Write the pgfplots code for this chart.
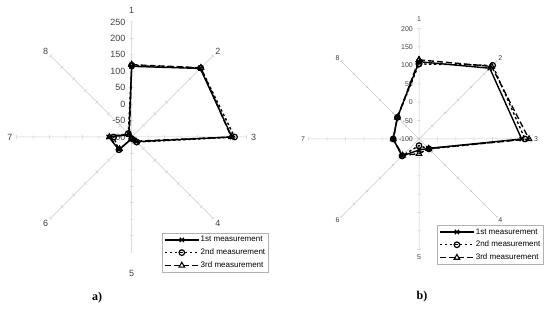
\documentclass[border=0pt]{standalone}
\usepackage{pgfplots}
\pgfplotsset{compat=1.18}
\usepackage{pgfplotstable}
\usepackage{fontspec}
\setmainfont{Liberation Sans}
\newfontfamily\seriffont{Liberation Serif}

\pgfplotstableread{
ang s1 s2 s3
90 115 118 120
45 195 197 198
0 205 213 203
-45 -80 -78 -82
-90 -95 -95 -95
-135 -45 -45 -48
180 -30 -45 -32
135 -88 -85 -90
90 115 118 120
}\dataA

\pgfplotstableread{
ang s1 s2 s3
90 110 104 115
45 172 183 179
0 179 188 199
-45 -64 -62 -63
-90 -70 -82 -60
-135 -35 -35 -37
180 -30 -30 -30
135 -17 -17 -17
90 110 104 115
}\dataB

\pgfplotsset{
  radar/.style={axis lines=none, clip=false, anchor=center,
    xmin=-400, xmax=400, ymin=-400, ymax=400, xtick=\empty, ytick=\empty,
    legend cell align=left,
    legend style={draw=gray!60, line width=0.4pt, font=\fontsize{8}{9}\selectfont,
      anchor=north west, inner xsep=2pt, inner ysep=2pt, row sep=3.2pt,
      nodes={inner sep=1.2pt}},
    legend image code/.code={\draw[mark repeat=2, mark phase=2] plot coordinates {(0pt,0pt)(17pt,0pt)(34pt,0pt)};}},
  s1/.style={black, line width=1.4pt, mark=x, mark size=3pt, mark options={solid, line width=1.2pt}},
  s2/.style={black, line width=1.4pt, dash pattern=on 2.5pt off 2.5pt, mark=o, mark size=2.8pt, mark options={solid, fill=white, line width=1.2pt}},
  s3/.style={black, line width=1.4pt, dash pattern=on 6pt off 3pt, mark=triangle, mark size=3.2pt, mark options={solid, fill=white, line width=1.1pt}},
}

\begin{document}
\begin{tikzpicture}
% ---------------- chart a ----------------
\begin{axis}[radar, at={(131.7pt,179pt)}, x=0.3286pt, y=0.3286pt,
  legend style={at={(axis cs:92,-292)}}]
  \draw[gray!40, line width=0.5pt] foreach \a in {0,45,...,315} {(0,0) -- ({350*cos(\a)},{350*sin(\a)})};
  \draw[gray!40, line width=0.5pt] foreach \a in {0,45,...,315} { foreach \r in {50,100,...,350} {
      ({\r*cos(\a)-6*sin(\a)},{\r*sin(\a)+6*cos(\a)}) -- ({\r*cos(\a)+6*sin(\a)},{\r*sin(\a)-6*cos(\a)}) } };
  \path foreach \v in {-100,-50,...,250} { (0,{\v+100}) node[anchor=east, inner sep=0pt, xshift=-6pt, text=black!75, font=\fontsize{9}{10}\selectfont] {\v} };
  \path[text=black!75, font=\fontsize{9}{10}\selectfont]
    (0,386) node {1} (262,262) node {2} (371,0) node {3} (262,-262) node {4}
    (0,-414) node {5} (-262,-262) node {6} (-371,0) node {7} (-262,262) node {8};
  \addplot[s1] table[x expr={cos(\thisrow{ang})*(\thisrow{s1}+100)}, y expr={sin(\thisrow{ang})*(\thisrow{s1}+100)}] {\dataA};
  \addplot[s2] table[x expr={cos(\thisrow{ang})*(\thisrow{s2}+100)}, y expr={sin(\thisrow{ang})*(\thisrow{s2}+100)}] {\dataA};
  \addplot[s3] table[x expr={cos(\thisrow{ang})*(\thisrow{s3}+100)}, y expr={sin(\thisrow{ang})*(\thisrow{s3}+100)}] {\dataA};
  \legend{1st measurement, 2nd measurement, 3rd measurement}
\end{axis}
% ---------------- chart b ----------------
\begin{axis}[radar, at={(419pt,177pt)}, x=0.368pt, y=0.368pt,
  legend style={at={(axis cs:49,-234)}}]
  \draw[gray!40, line width=0.5pt] foreach \a in {0,45,...,315} {(0,0) -- ({300*cos(\a)},{300*sin(\a)})};
  \draw[gray!40, line width=0.5pt] foreach \a in {0,45,...,315} { foreach \r in {50,100,...,300} {
      ({\r*cos(\a)-5*sin(\a)},{\r*sin(\a)+5*cos(\a)}) -- ({\r*cos(\a)+5*sin(\a)},{\r*sin(\a)-5*cos(\a)}) } };
  \path foreach \v in {-100,-50,...,200} { (0,{\v+100}) node[anchor=east, inner sep=0pt, xshift=-6pt, text=black!75, font=\fontsize{7}{8}\selectfont] {\v} };
  \path[text=black!75, font=\fontsize{7}{8}\selectfont]
    (0,326) node {1} (221,221) node {2} (318,0) node {3} (221,-221) node {4}
    (0,-321) node {5} (-221,-221) node {6} (-315,0) node {7} (-221,221) node {8};
  \addplot[s1] table[x expr={cos(\thisrow{ang})*(\thisrow{s1}+100)}, y expr={sin(\thisrow{ang})*(\thisrow{s1}+100)}] {\dataB};
  \addplot[s2] table[x expr={cos(\thisrow{ang})*(\thisrow{s2}+100)}, y expr={sin(\thisrow{ang})*(\thisrow{s2}+100)}] {\dataB};
  \addplot[s3] table[x expr={cos(\thisrow{ang})*(\thisrow{s3}+100)}, y expr={sin(\thisrow{ang})*(\thisrow{s3}+100)}] {\dataB};
  \legend{1st measurement, 2nd measurement, 3rd measurement}
\end{axis}
\node[font=\seriffont\bfseries\fontsize{12}{13}\selectfont] at (97pt,18pt) {a)};
\node[font=\seriffont\bfseries\fontsize{12}{13}\selectfont] at (422pt,19pt) {b)};
\pgfresetboundingbox
\path[use as bounding box] (0,0) rectangle (550pt,316pt);
\end{tikzpicture}
\end{document}
